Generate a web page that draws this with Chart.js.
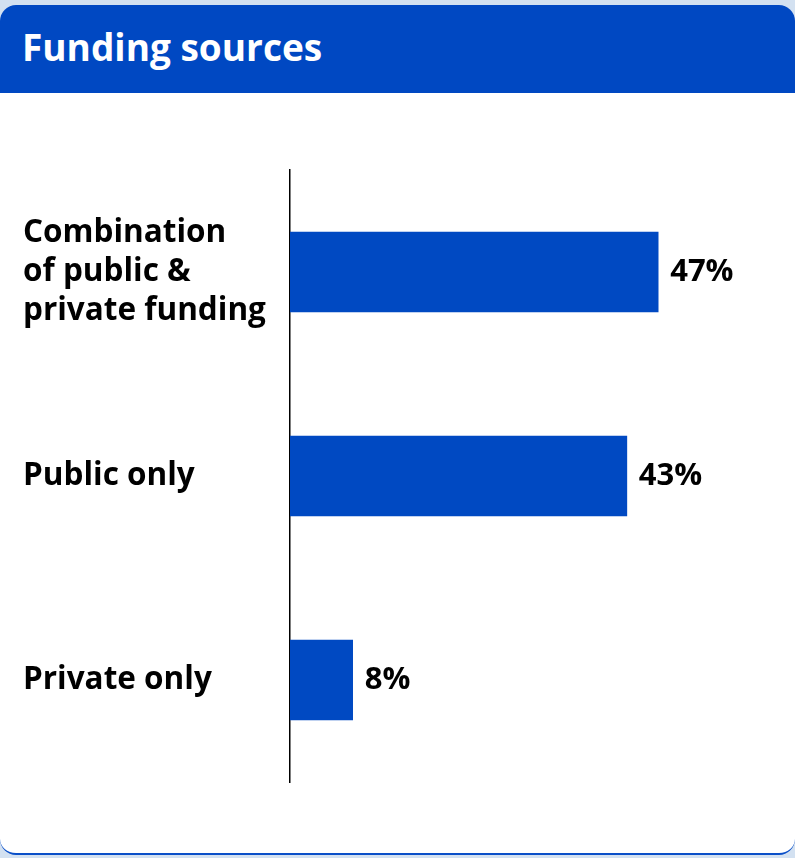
<!DOCTYPE html>
<html>
<head>
<meta charset="utf-8">
<script src="https://cdn.jsdelivr.net/npm/chart.js@4"></script>
<style>
  body { margin: 0; background: #d3e1f1; width: 795px; height: 858px; overflow: hidden; font-family: "Open Sans", sans-serif; }
  .card { position: absolute; left: 0; top: 5px; width: 795px; height: 848px; background: #fff; border-radius: 16px; border-bottom: 2px solid #0a4fc8; overflow: hidden; }
  .card-head { height: 88px; background: #0048c2; color: #fff; font-weight: 700; font-size: 37px; line-height: 84px; padding-left: 22px; box-sizing: border-box; }
  #fundingChart { position: absolute; left: 0; top: 95px; }
</style>
</head>
<body>
<div class="card">
  <div class="card-head">Funding sources</div>
  <canvas id="fundingChart" width="795" height="700"></canvas>
</div>
<script>
const categories = [
  ['Combination', 'of public &', 'private funding'],
  'Public only',
  'Private only'
];
const shares = [47, 43, 8];
const barColor = '#0049c2';

// draws "47%" etc. just past the end of each bar
const valueLabels = {
  id: 'valueLabels',
  afterDatasetsDraw(chart) {
    const ctx = chart.ctx;
    const meta = chart.getDatasetMeta(0);
    ctx.save();
    ctx.font = 'bold 31px "Open Sans", sans-serif';
    ctx.fillStyle = '#000';
    ctx.textAlign = 'left';
    ctx.textBaseline = 'middle';
    meta.data.forEach((bar, i) => {
      ctx.fillText(shares[i] + '%', bar.x + 12, bar.y);
    });
    ctx.restore();
  }
};

new Chart(document.getElementById('fundingChart'), {
  type: 'bar',
  data: {
    labels: categories,
    datasets: [{
      data: shares,
      backgroundColor: barColor,
      barThickness: 80
    }]
  },
  options: {
    indexAxis: 'y',
    responsive: false,
    animation: false,
    layout: { padding: { left: 23, right: 35, top: 70, bottom: 18 } },
    plugins: {
      legend: { display: false },
      tooltip: { enabled: false }
    },
    scales: {
      x: {
        display: false,
        min: 0,
        max: 60
      },
      y: {
        grid: { display: false },
        border: { display: true, color: '#000', width: 1.5 },
        afterFit(scale) {
          // fixed label column; labels sit at bar centres so no extra end padding
          scale.width = 267;
          scale.paddingTop = 0;
          scale.paddingBottom = 0;
        },
        ticks: {
          crossAlign: 'far',
          color: '#000',
          font: { family: '"Open Sans", sans-serif', size: 31.5, weight: 'bold', lineHeight: 1.24 }
        }
      }
    }
  },
  plugins: [valueLabels]
});
</script>
</body>
</html>
